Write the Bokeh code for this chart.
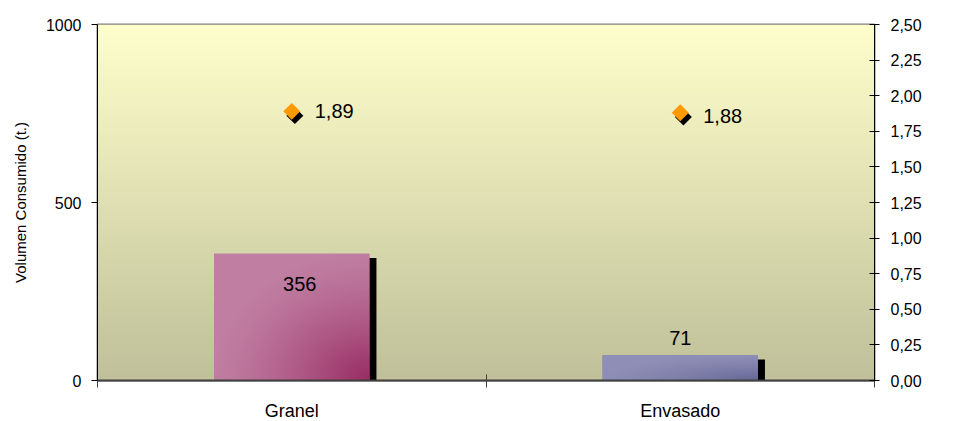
import numpy as np
from bokeh.plotting import figure
from bokeh.models import (Range1d, LinearAxis, FixedTicker, CustomJSTickFormatter, Label)
from bokeh.core.properties import value
from bokeh.embed import file_html
from bokeh.resources import INLINE

# ---- data ----
categories = ["Granel", "Envasado"]
volumen = [356, 71]
precio = [1.89, 1.88]
volumen_labels = ["356", "71"]
precio_labels = ["1,89", "1,88"]
left_ticks = [0, 500, 1000]
right_ticks = [0.0, 0.25, 0.5, 0.75, 1.0, 1.25, 1.5, 1.75, 2.0, 2.25, 2.5]

FONT = "Liberation Sans"
xs = [i + 0.5 for i in range(len(categories))]
bar_w = 0.4

p = figure(frame_width=777, frame_height=356, output_backend="svg", toolbar_location=None,
           x_range=Range1d(0, len(categories)), y_range=Range1d(0, 1000),
           min_border_left=97, min_border_right=83, min_border_top=24,
           min_border_bottom=41, background_fill_color="white",
           border_fill_color="white")
p.extra_y_ranges = {"precio": Range1d(0, 2.5)}
p.grid.visible = False
p.outline_line_color = "#808080"
p.outline_line_width = 2

# background vertical gradient (image through the plot scales)
ny = 256
top_c = np.array([255, 255, 204])
bot_c = np.array([192, 192, 154])
t = np.linspace(0, 1, ny)[:, None]  # 0 bottom -> 1 top
cols = bot_c * (1 - t) + top_c * t
bg = np.zeros((ny, 2), dtype=np.uint32)
view = bg.view(dtype=np.uint8).reshape((ny, 2, 4))
for k in range(2):
    view[:, k, 0] = cols[:, 0]
    view[:, k, 1] = cols[:, 1]
    view[:, k, 2] = cols[:, 2]
    view[:, k, 3] = 255
p.image_rgba(image=[bg], x=0, y=0, dw=len(categories), dh=1000)

# bar shadows
shadow_dx = 0.018
shadow_dy = 12
p.vbar(x=[x + shadow_dx for x in xs], top=[v - shadow_dy for v in volumen],
       width=bar_w, bottom=0, fill_color="black", line_color=None)

def grad_img(light, dark, n=120):
    light = np.array(light, float)
    dark = np.array(dark, float)
    u = np.linspace(0, 1, n)[None, :]
    v = np.linspace(0, 1, n)[:, None]  # 0 bottom
    d = np.sqrt((1 - u) ** 2 + v ** 2)
    w = np.clip(1 - d / 1.0, 0, 1) ** 1.3
    img = np.zeros((n, n), dtype=np.uint32)
    vw = img.view(dtype=np.uint8).reshape((n, n, 4))
    for c in range(3):
        vw[:, :, c] = (light[c] * (1 - w) + dark[c] * w).astype(np.uint8)
    vw[:, :, 3] = 255
    return img

bar_colors = [((192, 126, 162), (152, 45, 100)), ((142, 142, 182), (104, 104, 152))]
mid_colors = ["#B06890", "#8080AA"]
p.vbar(x=xs, top=volumen, width=bar_w, bottom=0, fill_color=mid_colors, line_color=None)
for x, v, (lc, dc) in zip(xs, volumen, bar_colors):
    p.image_rgba(image=[grad_img(lc, dc)], x=x - bar_w / 2, y=0, dw=bar_w, dh=v)

# bar value labels
p.text(x=xs, y=volumen, text=volumen_labels, text_align="center",
       text_baseline="middle", y_offset=[30, -17], x_offset=[8, 0],
       text_font=value(FONT), text_font_size="20px", text_color="black")

# price markers with shadow
p.scatter(x=[x + 0.008 for x in xs], y=[pr - 0.03 for pr in precio],
          y_range_name="precio", marker="square", size=12, angle=np.pi / 4,
          fill_color="black", line_color=None)
p.scatter(x=xs, y=precio, y_range_name="precio", marker="square", size=12,
          angle=np.pi / 4, fill_color="#FF9900", line_color=None)
p.text(x=xs, y=precio, y_range_name="precio", text=precio_labels,
       text_align="left", text_baseline="middle", x_offset=23, y_offset=[0, 3],
       text_font=value(FONT), text_font_size="20px", text_color="black")

# axes
xa = p.xaxis[0]
xa.ticker = FixedTicker(ticks=xs, minor_ticks=[0, 1, 2])
xa.major_label_overrides = {x: c for x, c in zip(xs, categories)}
xa.major_tick_in = 0
xa.major_tick_out = 0
xa.minor_tick_in = 6
xa.minor_tick_out = 7
xa.minor_tick_line_color = "#404040"
xa.axis_line_color = "#404040"
xa.axis_line_width = 2
xa.major_label_standoff = 13
xa.major_label_text_font = FONT
xa.major_label_text_font_size = "18px"
xa.major_label_text_color = "black"

ya = p.yaxis[0]
ya.ticker = FixedTicker(ticks=left_ticks, minor_ticks=[])
ya.major_tick_in = 0
ya.major_tick_out = 6
ya.major_tick_line_color = "black"
ya.axis_line_color = "black"
ya.major_label_standoff = 10
ya.major_label_text_font = FONT
ya.major_label_text_font_size = "16px"
ya.major_label_text_color = "black"
ya.axis_label = "Volumen Consumido (t.)"
ya.axis_label_text_font = FONT
ya.axis_label_text_font_size = "15px"
ya.axis_label_text_font_style = "normal"
ya.axis_label_text_color = "black"
ya.axis_label_standoff = 14

ra = LinearAxis(y_range_name="precio",
                ticker=FixedTicker(ticks=right_ticks, minor_ticks=[]),
                formatter=CustomJSTickFormatter(code="return tick.toFixed(2).replace('.', ',');"))
ra.major_tick_in = 5
ra.major_tick_out = 5
ra.major_tick_line_color = "black"
ra.axis_line_color = "black"
ra.major_label_standoff = 11
ra.major_label_text_font = FONT
ra.major_label_text_font_size = "16px"
ra.major_label_text_color = "black"
p.add_layout(ra, "right")

# right axis title, reading bottom-to-top (label on default ranges, offset in pixels)
right_title = Label(x=len(categories), y=500, x_offset=69,
                    text="Precio medio mensual (€/Kg)",
                    angle=90, angle_units="deg", text_align="center",
                    text_baseline="middle", text_font=FONT,
                    text_font_size="17px", text_color="black", level="overlay")
p.add_layout(right_title)

open("out.html", "w").write(file_html(p, INLINE))
